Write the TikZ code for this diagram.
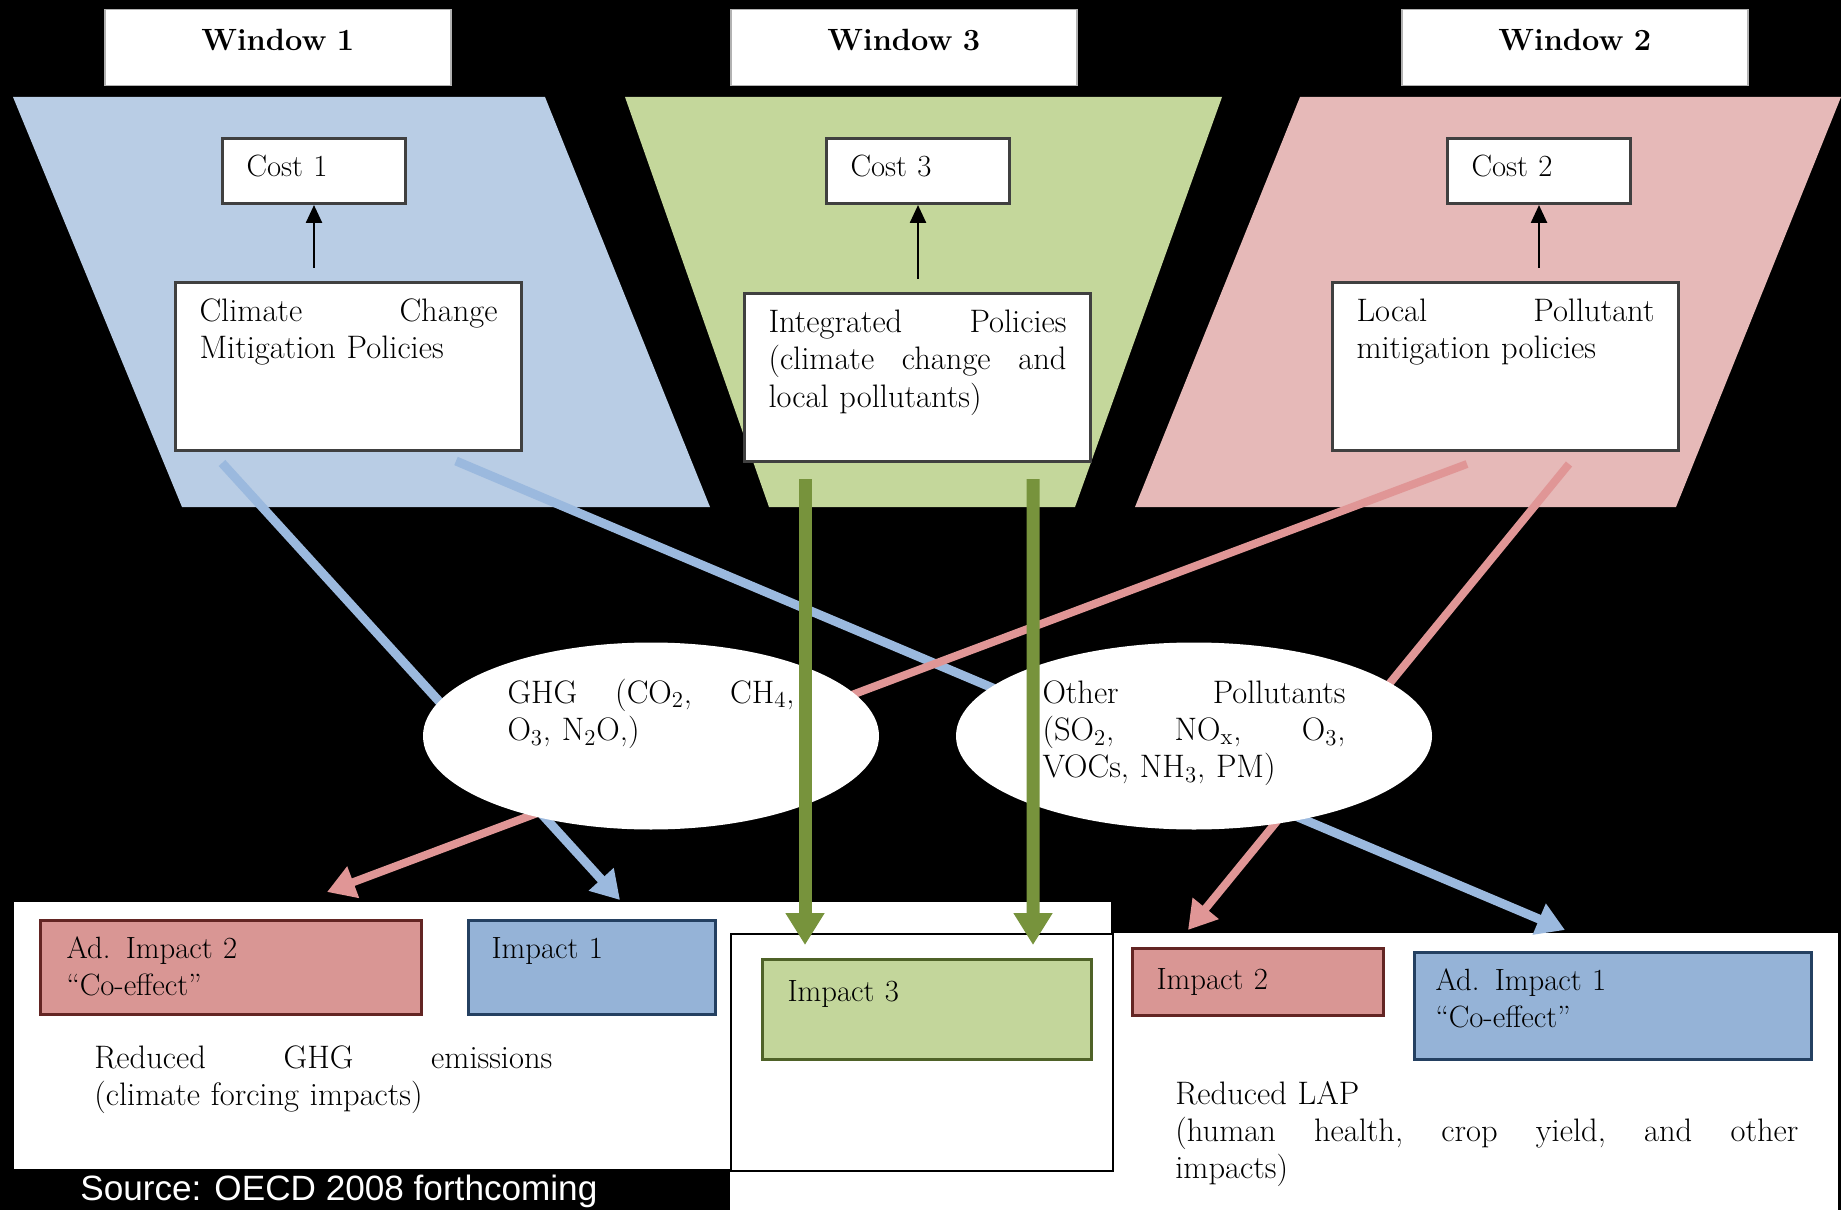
\documentclass[tikz,border=0pt]{standalone}
\usepackage{fontspec}
\newfontfamily\srcfont{Liberation Sans}
\usetikzlibrary{arrows.meta,calc,shapes.geometric}

\definecolor{winblue}{RGB}{185,205,229}
\definecolor{wingreen}{RGB}{196,215,155}
\definecolor{winred}{RGB}{230,185,184}
\definecolor{boxgray}{RGB}{64,64,64}
\definecolor{impred}{RGB}{217,150,148}
\definecolor{impredline}{RGB}{99,37,35}
\definecolor{impblue}{RGB}{149,179,215}
\definecolor{impblueline}{RGB}{36,64,97}
\definecolor{impgreen}{RGB}{195,214,155}
\definecolor{impgreenline}{RGB}{79,98,40}
\definecolor{arrblue}{RGB}{155,185,222}
\definecolor{arrpink}{RGB}{224,150,150}
\definecolor{arrgreen}{RGB}{119,147,60}

\def\F{0.2mm} % one pixel of the original
\newcommand\boxfont{\fontsize{17.5}{21.3}\selectfont}
\newcommand\bodyfont{\fontsize{18.5}{21.3}\selectfont}

\tikzset{
    sized/.style n args={4}{anchor=north west, inner ysep=0pt, inner xsep=#2*\F,
        text width=(#1-2*#2)*\F, text height=#3*\F, text depth=#4*\F, align=left},
    winbox/.style={sized={346}{0}{41}{35}, align=center, fill=white, draw=gray!60,
        line width=0.3mm, font=\boxfont\bfseries},
    costbox/.style={sized={183}{24}{38}{27}, fill=white, draw=boxgray, line width=0.6mm, font=\boxfont},
    polbox/.style={sized={346}{24}{39}{129}, fill=white, draw=boxgray, line width=0.6mm, font=\bodyfont},
    redbox/.style={fill=impred, draw=impredline, line width=0.6mm, font=\boxfont},
    bluebox/.style={fill=impblue, draw=impblueline, line width=0.6mm, font=\boxfont},
    greenbox/.style={fill=impgreen, draw=impgreenline, line width=0.6mm, font=\boxfont},
    panel/.style 2 args={anchor=north west, fill=white, inner sep=0pt,
        minimum width=#1*\F, minimum height=#2*\F},
    gas/.style={ellipse, fill=white, inner sep=0pt, minimum height=187*\F,
        text height=25*\F, text depth=91*\F, align=left, font=\bodyfont},
    para/.style={inner sep=0pt, anchor=base west, align=left, font=\bodyfont},
    costarrow/.style={-{Triangle[width=3.2mm,length=3.6mm]}, line width=0.5mm, shorten <=2.6mm},
    bluearrow/.style={-{Triangle[width=6.4mm,length=5.6mm]}, line width=1.8mm, draw=arrblue},
    pinkarrow/.style={-{Triangle[width=6.4mm,length=5.6mm]}, line width=1.6mm, draw=arrpink},
    greenarrow/.style={-{Triangle[width=7.4mm,length=6.4mm]}, line width=2.6mm, draw=arrgreen},
}

\begin{document}
\begin{tikzpicture}[x=\F, y=-\F]
    \useasboundingbox (0,0) rectangle (1841,1210);
    \clip (0,0) rectangle (1841,1210);
    \fill[black] (0,0) rectangle (1841,1210);

    % the three windows
    \fill[winblue] (13,97) -- (545,97) -- (710,507) -- (182,507) -- cycle;
    \fill[wingreen] (625,97) -- (1222,97) -- (1075,507) -- (769,507) -- cycle;
    \fill[winred] (1300,97) -- (1841,97) -- (1676,507) -- (1135,507) -- cycle;

    \foreach \x/\n in {104/1, 730/3, 1401/2}
        \node[winbox] (win\n) at (\x,9) {Window \n};
    \foreach \x/\n in {221/1, 825/3, 1446/2}
        \node[costbox] (cost\n) at (\x,137) {Cost \n};

    \node[polbox] (climate) at (174,281) {Climate\hfill Change\\Mitigation Policies};
    \node[polbox] (integrated) at (743,292)
        {Integrated\hfill Policies\\(climate\hfill change\hfill and\\local pollutants)};
    \node[polbox] (local) at (1331,281) {Local\hfill Pollutant\\mitigation policies};

    \foreach \n/\p in {1/climate, 3/integrated, 2/local}
        \draw[costarrow] (cost\n.south |- \p.north) -- (cost\n.south);

    % impacts
    \node[panel={1097}{267}] (lpanel) at (14,902) {};
    \node[panel={1108}{277}] (rpanel) at (730,933) {};
    \node[panel={382}{237}, draw=black, line width=0.4mm] (mpanel) at (730,933) {};

    \node[redbox, sized={381}{26}{38}{56}] (ad2) at (39,919) {Ad. Impact 2\\“Co-effect”};
    \node[bluebox, sized={247}{23}{38}{56}] (impact1) at (467,919) {Impact 1};
    \node[greenbox, sized={329}{25}{42}{58}] (impact3) at (761,958) {Impact 3};
    \node[redbox, sized={251}{24}{41}{26}] (impact2) at (1131,947) {Impact 2};
    \node[bluebox, sized={397}{21}{38}{69}] (ad1) at (1413,951) {Ad. Impact 1\\“Co-effect”};

    \node[para, text width=458*\F] (ghgfx) at (94,1068)
        {Reduced\hfill GHG\hfill emissions\\(climate forcing impacts)};
    \node[para, text width=623*\F] (lapfx) at (1175,1104)
        {Reduced LAP\\(human\hfill health,\hfill crop\hfill yield,\hfill and\hfill other\\impacts)};

    % policy to impact
    \draw[bluearrow] ($(climate.south west)+(48,11)$) -- ($(impact1.north west)+(153,-19)$);
    \draw[bluearrow] ($(climate.south east)+(-67,9)$) -- ($(ad1.north west)+(152,-21)$);
    \draw[pinkarrow] ($(local.south west)+(136,12)$) -- ($(ad2.north west)+(288,-27)$);
    \draw[pinkarrow] ($(local.south east)+(-111,12)$) -- ($(impact2.north west)+(57,-17)$);

    \node[gas, minimum width=456*\F, text width=287*\F] (ghg) at (651,736)
        {GHG\hfill (CO\textsubscript{2},\hfill CH\textsubscript{4},\\O\textsubscript{3}, N\textsubscript{2}O,)};
    \node[gas, minimum width=476*\F, text width=303*\F] (other) at (1194,736)
        {Other\hfill Pollutants\\(SO\textsubscript{2},\hfill NO\textsubscript{x},\hfill O\textsubscript{3},\\VOCs, NH\textsubscript{3}, PM)};

    \draw[greenarrow] ($(integrated.south west)+(62,16)$) -- ($(impact3.north west)+(44,-13)$);
    \draw[greenarrow] ($(integrated.south east)+(-59,16)$) -- ($(impact3.north east)+(-60,-13)$);

    \node[anchor=base west, inner sep=0pt, text=white, font=\srcfont\fontsize{20}{24}\selectfont]
        (src) at (80,1200) {Source: OECD 2008 forthcoming};
\end{tikzpicture}
\end{document}
